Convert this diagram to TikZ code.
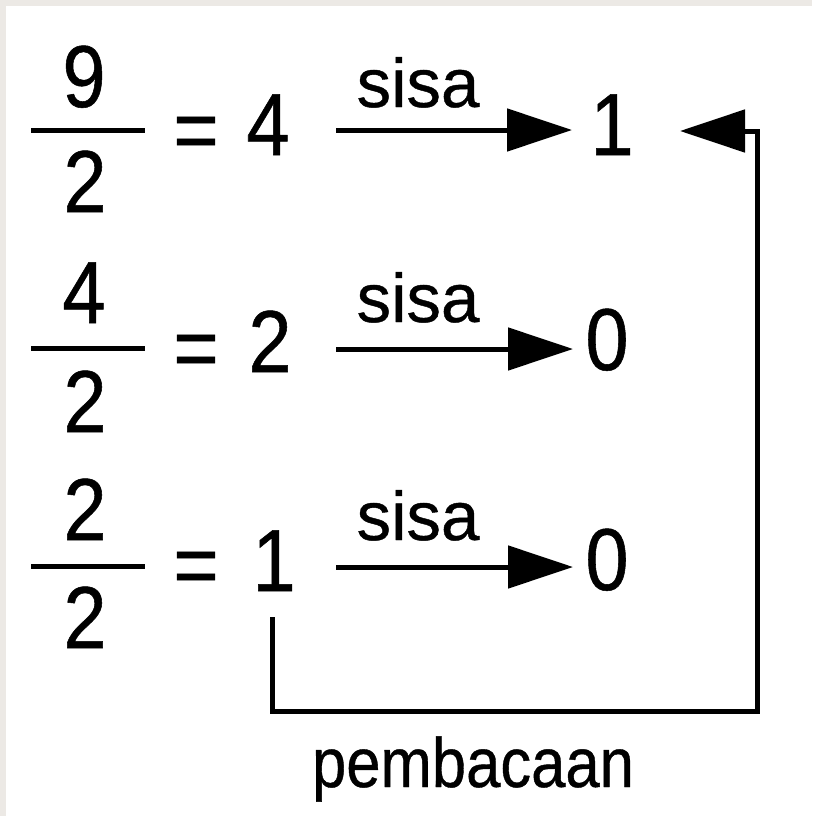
\documentclass[tikz,border=0pt]{standalone}
\usepackage{fontspec}
\setmainfont{Liberation Sans}[FakeBold=0.6]
\newfontfamily\digfont{Liberation Sans}[FakeStretch=0.88,FakeBold=0.6]
\usetikzlibrary{arrows.meta}
\definecolor{edgegrey}{RGB}{236,233,229}
\begin{document}
\begin{tikzpicture}[x=1pt,y=-1pt,
  digit/.style={anchor=base,inner sep=0pt,font=\digfont\fontsize{88}{88}\selectfont},
  lbl/.style={anchor=base,inner sep=0pt,font=\fontsize{69}{69}\selectfont},
  fracbar/.style={line width=5pt},
  arr/.style={line width=5pt,-{Triangle[length=65pt,width=42pt]}},
  conn/.style={line width=5pt,-{Triangle[length=65pt,width=42pt]}}]
\fill[edgegrey] (0,0) rectangle (812,816);
\fill[white] (6,6) rectangle (812,816);
\useasboundingbox (0,0) rectangle (812,816);
% row 1
\node[digit] (n1) at (84,107) {9};
\node[digit] (d1) at (85,212) {2};
\draw[fracbar] (31,130) -- (145,130);
\node[digit] (q1) at (196,160) {=};
\node[digit] (r1) at (268,155) {4};
\node[lbl] (s1) at (418,107) {sisa};
\node[digit] (m1) at (612,155) {1};
\coordinate (a1s) at (336,130);
\coordinate (a1e) at (572,130);
\draw[arr] (a1s) -- (a1e);
% row 2
\node[digit] (n2) at (84,323) {4};
\node[digit] (d2) at (85,432) {2};
\draw[fracbar] (31,348) -- (145,348);
\node[digit] (q2) at (196,378) {=};
\node[digit] (r2) at (270,372) {2};
\node[lbl] (s2) at (418,322) {sisa};
\node[digit] (m2) at (607,370) {0};
\coordinate (a2s) at (336,349);
\coordinate (a2e) at (573,349);
\draw[arr] (a2s) -- (a2e);
% row 3
\node[digit] (n3) at (85,540) {2};
\node[digit] (d3) at (85,648) {2};
\draw[fracbar] (31,566) -- (145,566);
\node[digit] (q3) at (196,595) {=};
\node[digit] (r3) at (274,591) {1};
\node[lbl] (s3) at (418,540) {sisa};
\node[digit] (m3) at (607,590) {0};
\coordinate (a3s) at (336,567);
\coordinate (a3e) at (573,567);
\draw[arr] (a3s) -- (a3e);
% reading connector
\coordinate (up) at (272,617);
\coordinate (corner) at (757,711);
\coordinate (rt) at (680,131);
\draw[conn] (up) |- (corner) |- (rt);
\node[anchor=base,inner sep=0pt,font=\fontsize{70}{70}\selectfont] (p) at (473,787) {\scalebox{0.88}[1]{pembacaan}};
\end{tikzpicture}
\end{document}
